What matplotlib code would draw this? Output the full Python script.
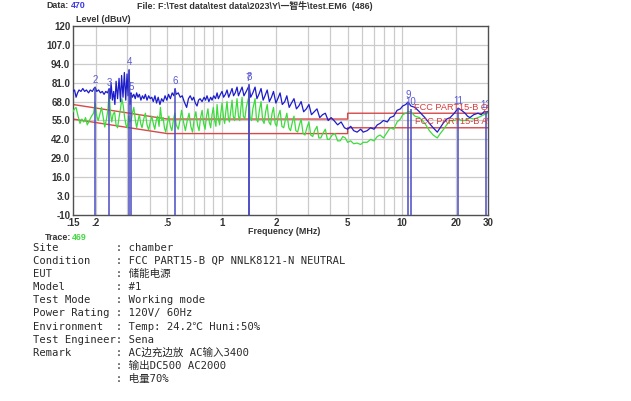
import matplotlib
matplotlib.use("Agg")
import matplotlib.pyplot as plt
from matplotlib.ticker import FixedLocator, NullFormatter

W, H = 631, 401

# ---- data ----
x_ticks = [0.15, 0.2, 0.5, 1, 2, 5, 10, 20, 30]
x_tick_labels = [".15", ".2", ".5", "1", "2", "5", "10", "20", "30"]
x_grid = [0.2, 0.3, 0.4, 0.5, 0.6, 0.7, 0.8, 0.9, 1, 2, 3, 4, 5, 6, 7, 8, 9, 10, 20]
y_ticks = [-10, 3, 16, 29, 42, 55, 68, 81, 94, 107, 120]
y_tick_labels = ["-10", "3.0", "16.0", "29.0", "42.0", "55.0", "68.0", "81.0", "94.0", "107.0", "120"]

limit_freq = [0.15, 0.5, 5, 5, 30]
limit_qp = [66, 56, 56, 60, 60]
limit_av = [56, 46, 46, 50, 50]

qp_freq = [0.150, 0.153, 0.156, 0.159, 0.162, 0.166, 0.170, 0.174, 0.178, 0.183, 0.187, 0.192,
           0.196, 0.199, 0.203, 0.208, 0.213, 0.218, 0.223, 0.228, 0.233, 0.238, 0.241, 0.244,
           0.248, 0.252, 0.256, 0.260, 0.265, 0.270, 0.275, 0.279, 0.284, 0.289, 0.294, 0.299,
           0.303, 0.307, 0.311, 0.315, 0.320, 0.326, 0.332, 0.338, 0.344, 0.350, 0.357, 0.364,
           0.371, 0.378, 0.386, 0.394, 0.402, 0.410, 0.418, 0.427, 0.436, 0.445, 0.455, 0.465,
           0.475, 0.486, 0.497, 0.508, 0.520, 0.532, 0.544, 0.552, 0.560, 0.575, 0.590, 0.605,
           0.620, 0.640, 0.655, 0.670, 0.686, 0.700, 0.715, 0.731, 0.745, 0.760, 0.779, 0.800,
           0.815, 0.830, 0.850, 0.870, 0.885, 0.905, 0.925, 0.944, 0.960, 0.985, 1.006, 1.025,
           1.050, 1.072, 1.095, 1.120, 1.143, 1.165, 1.190, 1.218, 1.240, 1.270, 1.299, 1.330,
           1.370, 1.420, 1.450, 1.490, 1.533, 1.570, 1.610, 1.655, 1.700, 1.740, 1.790, 1.840,
           1.890, 1.940, 2.000, 2.050, 2.110, 2.170, 2.240, 2.300, 2.370, 2.440, 2.520, 2.600,
           2.680, 2.760, 2.850, 2.950, 3.050, 3.150, 3.260, 3.380, 3.500, 3.630, 3.760, 3.900,
           4.050, 4.200, 4.400, 4.600, 4.800, 5.000, 5.200, 5.400, 5.640, 5.900, 6.100, 6.410,
           6.700, 7.000, 7.300, 7.560, 7.900, 8.300, 8.600, 9.000, 9.400, 9.800, 10.10, 10.50,
           10.80, 11.20, 11.80, 12.50, 13.40, 14.20, 14.90, 15.70, 16.30, 16.90, 17.70, 18.50,
           19.50, 20.50, 21.40, 22.40, 23.10, 23.80, 25.00, 26.40, 27.50, 28.50, 30.00]
qp_level = [75, 76, 71, 74, 76, 75, 77, 75, 76, 74, 76, 75,
            77, 78, 75, 76, 74, 75, 73, 75, 74, 77, 70, 81,
            69, 75, 66, 82, 70, 84, 68, 86, 71, 88, 69, 87,
            72, 90, 66, 74, 71, 73, 70, 74, 71, 73, 69, 72,
            70, 73, 69, 72, 70, 71, 68, 72, 67, 71, 66, 70,
            68, 72, 69, 73, 70, 74, 72, 77, 73, 74, 71, 72,
            68, 64, 70, 72, 69, 71, 67, 65, 69, 70, 68, 71,
            69, 72, 68, 71, 69, 72, 70, 74, 70, 73, 75, 71,
            73, 76, 71, 74, 77, 72, 74, 78, 72, 75, 78, 72,
            75, 79, 71, 74, 78, 70, 73, 77, 69, 72, 76, 68,
            71, 75, 67, 70, 74, 66, 68, 72, 64, 67, 70, 63,
            65, 68, 61, 63, 66, 59, 61, 63, 57, 59, 60, 55,
            57, 55, 52, 54, 50, 49, 51, 48, 47, 49, 47, 48,
            50, 49, 52, 53, 55, 54, 57, 58, 62, 63, 65, 66,
            67.7, 65, 64, 61, 57, 53, 50, 47, 50, 53, 56, 57,
            60, 63.5, 62, 60, 58, 57, 59, 60, 59, 61, 61]

av_freq = [0.150, 0.153, 0.156, 0.160, 0.164, 0.168, 0.172, 0.176, 0.180, 0.185, 0.190, 0.195,
           0.199, 0.203, 0.207, 0.212, 0.216, 0.220, 0.225, 0.230, 0.234, 0.238, 0.242, 0.246,
           0.250, 0.255, 0.260, 0.265, 0.270, 0.275, 0.280, 0.285, 0.290, 0.295, 0.300, 0.305,
           0.310, 0.315, 0.320, 0.326, 0.332, 0.338, 0.344, 0.350, 0.356, 0.362, 0.370, 0.378,
           0.386, 0.394, 0.402, 0.410, 0.418, 0.426, 0.434, 0.442, 0.450, 0.458, 0.466, 0.474,
           0.482, 0.490, 0.500, 0.510, 0.520, 0.530, 0.540, 0.550, 0.560, 0.575, 0.590, 0.600,
           0.615, 0.630, 0.645, 0.660, 0.675, 0.690, 0.705, 0.720, 0.735, 0.750, 0.765, 0.780,
           0.795, 0.810, 0.825, 0.840, 0.855, 0.870, 0.885, 0.900, 0.915, 0.930, 0.944, 0.960,
           0.975, 0.990, 1.006, 1.025, 1.040, 1.055, 1.072, 1.090, 1.105, 1.125, 1.143, 1.160,
           1.180, 1.200, 1.218, 1.240, 1.260, 1.280, 1.299, 1.320, 1.345, 1.370, 1.420, 1.440,
           1.465, 1.490, 1.533, 1.560, 1.590, 1.620, 1.655, 1.690, 1.720, 1.755, 1.790, 1.830,
           1.870, 1.905, 1.940, 1.980, 2.020, 2.060, 2.110, 2.160, 2.210, 2.260, 2.300, 2.360,
           2.410, 2.470, 2.520, 2.580, 2.640, 2.700, 2.760, 2.830, 2.900, 2.970, 3.050, 3.120,
           3.200, 3.280, 3.380, 3.460, 3.550, 3.640, 3.760, 3.860, 3.960, 4.100, 4.250, 4.400,
           4.550, 4.700, 4.850, 5.000, 5.200, 5.400, 5.640, 5.900, 6.100, 6.410, 6.700, 7.000,
           7.300, 7.560, 7.900, 8.300, 8.600, 9.000, 9.400, 9.800, 10.10, 10.50, 10.80, 11.20,
           11.80, 12.50, 13.40, 14.20, 14.90, 15.70, 16.30, 16.90, 17.70, 18.50, 19.50, 20.50,
           21.40, 22.40, 23.80, 25.00, 26.40, 27.50, 28.50, 30.00]
av_level = [61, 63, 64, 58, 53, 56, 54, 57, 52, 55, 58, 60,
            67, 58, 55, 60, 64, 58, 50.5, 56, 62, 74, 60, 54,
            59, 61, 52, 50, 57, 63, 70, 65, 57, 52, 50, 58,
            54, 55, 60, 64, 56, 50, 55, 59, 53, 50, 56, 60,
            52, 48.5, 54, 58, 53, 49, 55, 58, 51, 64, 55, 57,
            50, 47, 53, 58, 51, 48, 55, 60, 52, 49, 56, 62,
            54, 48, 55, 60, 51, 47, 56, 61, 52, 48, 57, 62,
            53, 49, 58, 63, 54, 50, 59, 64, 55, 51, 66, 56,
            52, 60, 67, 57, 53, 61, 68, 57, 54, 62, 69, 58,
            55, 63, 70, 58, 55, 64, 71, 58, 56, 64, 72, 57,
            55, 63, 70, 56, 54, 62, 68, 55, 53, 61, 66, 54,
            52, 60, 64, 53, 51, 58, 62, 51, 50, 56, 60, 50,
            48, 54, 58, 48, 47, 52, 56, 46, 45, 50, 54, 45,
            44, 48, 51, 43, 43, 46, 49, 42, 42, 45, 46, 41,
            41, 44, 43, 40, 41, 39, 39.5, 38.5, 40, 40, 42, 41,
            44, 45, 43, 47, 50, 49, 54, 56, 59, 60, 61, 61,
            58, 57, 53, 48, 45, 43, 46, 48.5, 52, 55, 55, 56,
            55, 55, 56.7, 56, 57, 58, 59, 60]

marker_freq = [0.199, 0.238, 0.307, 0.315, 0.552, 1.41, 1.42, 10.8, 11.2, 20.5, 29.3]
marker_level = [78, 76, 90, 73, 77, 79, 80, 67.7, 63, 63.5, 61]
marker_names = ["2", "3", "4", "5", "6", "7", "8", "9", "10", "11", "12"]

# ---- figure ----
fig = plt.figure(figsize=(W / 100, H / 100), dpi=100)
fig.patch.set_facecolor("white")
ax = fig.add_axes([73 / W, 1 - 215 / H, 415 / W, 189 / H])

ax.set_xscale("log")
ax.set_xlim(0.15, 30)
ax.set_ylim(-10, 120)

for g in x_grid:
    ax.axvline(g, color="#cbcbcb", lw=0.9, zorder=0)
for g in y_ticks[1:-1]:
    ax.axhline(g, color="#cbcbcb", lw=0.9, zorder=0)

ax.plot(limit_freq, limit_qp, color="#d84848", lw=1.0, zorder=2)
ax.plot(limit_freq, limit_av, color="#d84848", lw=1.0, zorder=2)

ax.plot(av_freq, av_level, color="#3ddc3d", lw=0.9, zorder=3)
ax.plot(qp_freq, qp_level, color="#1c1ccc", lw=0.9, zorder=4)

for f, lv, name in zip(marker_freq, marker_level, marker_names):
    ax.vlines(f, -10, lv, color="#4a4ac4", lw=1.1, zorder=5)
    ax.text(f, lv + 1.5, name, color="#5a5ad2", fontsize=7, ha="center", va="bottom",
            family="Liberation Sans", zorder=6, clip_on=True)

ax.text(11.6, 64, "FCC PART15-B QP", color="#d83a3a", fontsize=6.6, va="center",
        family="Liberation Sans", zorder=7, clip_on=True)
ax.text(11.8, 54, "FCC PART15-B AV", color="#d83a3a", fontsize=6.6, va="center",
        family="Liberation Sans", zorder=7, clip_on=True)

ax.xaxis.set_major_locator(FixedLocator(x_ticks))
ax.xaxis.set_minor_formatter(NullFormatter())
ax.xaxis.set_minor_locator(FixedLocator([]))
ax.set_xticklabels(x_tick_labels)
ax.set_yticks(y_ticks)
ax.set_yticklabels(y_tick_labels)
ax.tick_params(length=0, labelsize=7, colors="#333333", pad=2)
for lbl in ax.get_xticklabels() + ax.get_yticklabels():
    lbl.set_fontweight("bold")
    lbl.set_family("Liberation Sans")

for s in ax.spines.values():
    s.set_color("#505050")
    s.set_linewidth(1.0)


def px(x, y):
    return x / W, 1 - y / H


head = dict(fontsize=6.4, fontweight="bold", color="#333333",
            family=["Liberation Sans", "Noto Sans CJK SC"], va="center")
fig.text(*px(46, 6), "Data:", **head)
fig.text(*px(71, 6), "470", **{**head, "color": "#3a3ae6"})
fig.text(*px(137, 6), "File: F:\\Test data\\test data\\2023\\Y\\一智牛\\test.EM6  (486)", **head)
fig.text(*px(76, 19), "Level (dBuV)", **head)
fig.text(*px(248, 231), "Frequency (MHz)", **head)
fig.text(*px(45, 238), "Trace:", **head)
fig.text(*px(72, 238), "469", **{**head, "color": "#45d845"})

info = [
    "Site         : chamber",
    "Condition    : FCC PART15-B QP NNLK8121-N NEUTRAL",
    "EUT          : 储能电源",
    "Model        : #1",
    "Test Mode    : Working mode",
    "Power Rating : 120V/ 60Hz",
    "Environment  : Temp: 24.2℃ Huni:50%",
    "Test Engineer: Sena",
    "Remark       : AC边充边放 AC输入3400",
    "             : 输出DC500 AC2000",
    "             : 电量70%",
]
for i, line in enumerate(info):
    fig.text(*px(33, 248 + i * 13.1), line, fontsize=7.6, color="#2a2a2a",
             family=["DejaVu Sans Mono", "Noto Sans CJK SC"], va="center")

fig.savefig("out.png", dpi=100, facecolor="white")
